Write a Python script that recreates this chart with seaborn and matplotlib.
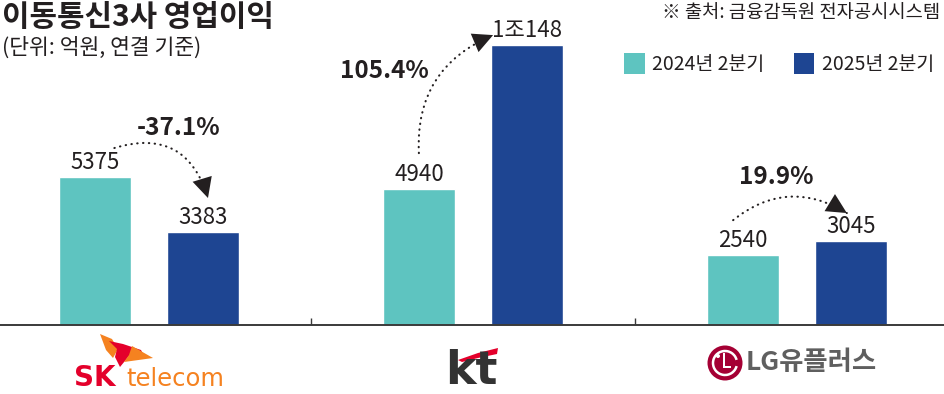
import numpy as np
import pandas as pd
import matplotlib
matplotlib.use("Agg")
import matplotlib.pyplot as plt
import matplotlib.transforms as mtransforms
from matplotlib.patches import Patch, Polygon, Circle, Rectangle, Arc
import seaborn as sns

# ---------------- data ----------------
companies = ["SK텔레콤", "KT", "LG유플러스"]
periods = ["2024년 2분기", "2025년 2분기"]
values_2024 = [5375, 4940, 2540]
values_2025 = [3383, 10148, 3045]

title = "이동통신3사 영업이익"
subtitle = "(단위: 억원, 연결 기준)"
source = "※ 출처: 금융감독원 전자공시시스템"

TEAL = "#5ec4c0"
NAVY = "#1e4592"
INK = "#231f20"

sns.set_theme(style="white")
plt.rcParams["font.family"] = ["Noto Sans CJK KR", "DejaVu Sans"]

df = pd.DataFrame({
    "company": companies * 2,
    "period": [periods[0]] * 3 + [periods[1]] * 3,
    "value": values_2024 + values_2025,
})

W, H = 945, 394
fig = plt.figure(figsize=(W / 100, H / 100), dpi=100)
fig.patch.set_facecolor("white")
base_px = 325
ax = fig.add_axes([0, (H - base_px) / H, 1, base_px / H])

sns.barplot(data=df, x="company", y="value", hue="period", order=companies,
            hue_order=periods, palette=[TEAL, NAVY], width=0.667, gap=0.333,
            saturation=1, ax=ax, legend=False)

ax.set_xlim(-0.46, 2.457)
ax.set_ylim(0, 11780)
for s in ["top", "left", "right"]:
    ax.spines[s].set_visible(False)
ax.spines["bottom"].set_color("#3a3a3a")
ax.spines["bottom"].set_linewidth(1.4)
ax.set_yticks([])
ax.set_xticks([0.5, 1.5])
ax.set_xticklabels([])
ax.tick_params(axis="x", direction="in", length=5, width=1.0, color="#3a3a3a", bottom=True)
ax.set_xlabel("")
ax.set_ylabel("")
ax.set_facecolor("white")


def fmt(v):
    if v >= 10000:
        return f"{v // 10000}조{v % 10000}"
    return f"{v}"


for cont, vals in zip(ax.containers, [values_2024, values_2025]):
    ax.bar_label(cont, labels=[fmt(v) for v in vals], padding=2,
                 fontsize=16, color=INK)

# change arrows and percentages
pct = [(b / a - 1) * 100 for a, b in zip(values_2024, values_2025)]
off = 0.167
arrow_cfg = [
    # (start dx, start dy, end dx, end dy, rad, label x offset, label y)
    (0.06, 1040, 0.015, 1220, -0.5, 0.09, 7140),
    (0.0, 1290, -0.105, 360, -0.35, -0.275, 9200),
    (-0.03, 1260, -0.013, 1013, -0.35, -0.065, 5360),
]
for i, (a, b, p, cfg) in enumerate(zip(values_2024, values_2025, pct, arrow_cfg)):
    sdx, sdy, edx, edy, rad, lx, ly = cfg
    end = (i + off + edx, b + edy)
    start = (i - off + sdx, a + sdy)
    conn = f"arc3,rad={rad}"
    # dotted curve
    ax.annotate("", xy=end, xytext=start,
                arrowprops=dict(arrowstyle="-", linestyle=(0, (0.2, 2.6)), lw=1.5,
                                capstyle="round",
                                color=INK, shrinkA=0, shrinkB=0,
                                connectionstyle=conn))
    # solid head
    ax.annotate("", xy=end, xytext=start,
                arrowprops=dict(arrowstyle="-|>,head_length=0.6,head_width=0.3",
                                lw=0, facecolor=INK, edgecolor="none",
                                mutation_scale=24, shrinkA=0, shrinkB=0,
                                connectionstyle=conn))
    ax.text(i + lx, ly, f"{p:.1f}%", ha="center", va="center", fontsize=17.5,
            fontweight="bold", color=INK)

# titles
fig.text(2 / W, 1 - 2 / H, title, ha="left", va="top", fontsize=21.5,
         fontweight="bold", color=INK)
fig.text(2 / W, 1 - 37 / H, subtitle, ha="left", va="top", fontsize=15.5,
         color=INK)
fig.text(940 / W, 1 - 2 / H, source, ha="right", va="top", fontsize=13.5, color=INK)

handles = [Patch(facecolor=TEAL, edgecolor="none"), Patch(facecolor=NAVY, edgecolor="none")]
fig.legend(handles, periods, loc="upper right", bbox_to_anchor=(946 / W, 1 - 41 / H),
           ncol=2, frameon=False, fontsize=14, handlelength=1.05, handleheight=1.35,
           handletextpad=0.4, columnspacing=1.5, borderaxespad=0.2,
           labelcolor=INK)

# ---------------- logos (pixel coords, top-left origin) ----------------
px = mtransforms.Affine2D().scale(1 / W, -1 / H).translate(0, 1) + fig.transFigure


def add(p):
    p.set_transform(px)
    fig.add_artist(p)


ORANGE = "#f58220"
RED = "#e4002b"
# SK butterfly
add(Polygon([(100, 334), (112, 339), (118, 349), (113, 358), (106, 350), (103, 342)],
            closed=True, facecolor=ORANGE, edgecolor="none"))
add(Polygon([(109, 341), (123, 344), (141, 350), (144, 356), (129, 356), (120, 367),
             (115, 357), (117, 349)],
            closed=True, facecolor=RED, edgecolor="none"))
add(Polygon([(132, 346), (153, 358), (124, 362), (129, 355)],
            closed=True, facecolor=ORANGE, edgecolor="none"))
fig.text(74 / W, 1 - 386 / H, "SK", fontsize=20, fontweight="bold", color=RED,
         ha="left", va="baseline", family=["DejaVu Sans"])
fig.text(126 / W, 1 - 386 / H, "telecom", fontsize=17.5, color=ORANGE,
         ha="left", va="baseline", family=["DejaVu Sans"])

# KT
fig.text(445 / W, 1 - 384 / H, "kt", fontsize=33, fontweight="bold", color="#333333",
         ha="left", va="baseline", family=["DejaVu Sans"])
add(Polygon([(458, 360), (478, 353), (498, 348), (497, 354), (478, 358), (462, 362)],
            closed=True, facecolor=RED, edgecolor="none"))

# LG U+
LGRED = "#a50034"
add(Circle((725, 363), 17.5, facecolor=LGRED, edgecolor="none"))
add(Arc((725, 363), 24, 24, theta1=15, theta2=345, edgecolor="white", lw=1.8))
add(Circle((718, 356), 2.0, facecolor="white", edgecolor="none"))
add(Rectangle((723, 353), 2.4, 15, facecolor="white", edgecolor="none"))
add(Rectangle((723, 366), 8, 2.4, facecolor="white", edgecolor="none"))
fig.text(746 / W, 1 - 363 / H, "LG유플러스", fontsize=19, fontweight="bold",
         color="#5f5f5f", ha="left", va="center")

fig.savefig("out.png", dpi=100)
